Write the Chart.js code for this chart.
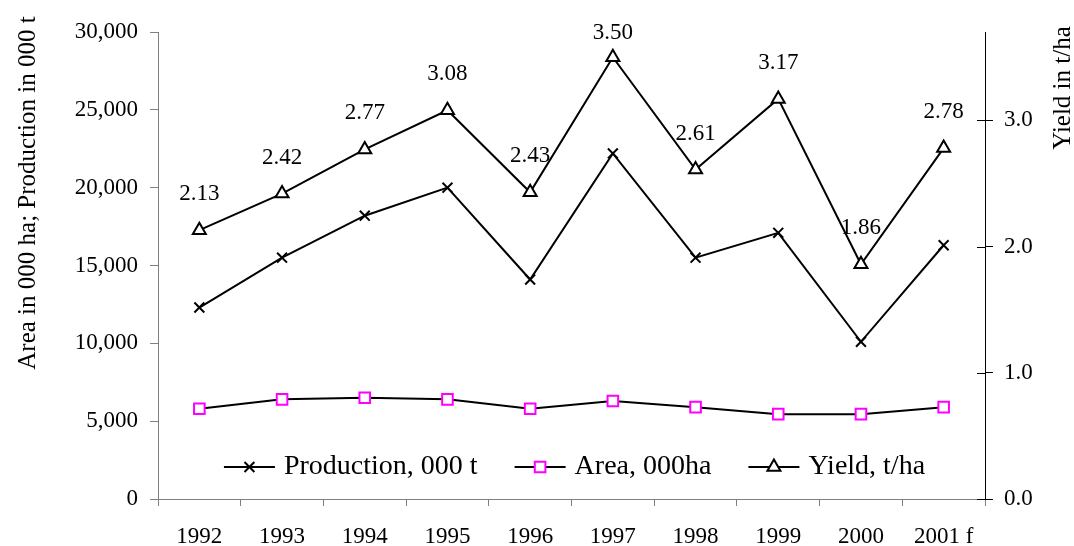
<!DOCTYPE html>
<html>
<head>
<meta charset="utf-8">
<script src="https://cdn.jsdelivr.net/npm/chart.js@4/dist/chart.umd.min.js"></script>
<style>
  html, body { margin: 0; padding: 0; background: #fff; }
  #wrap { width: 1074px; height: 546px; }
</style>
</head>
<body>
<div id="wrap"><canvas id="crop-chart" width="1074" height="546"></canvas></div>
<script>
// values
var years = ['1992', '1993', '1994', '1995', '1996', '1997', '1998', '1999', '2000', '2001 f'];
var production = [12300, 15500, 18200, 20000, 14100, 22200, 15500, 17100, 10100, 16300];
var area = [5800, 6400, 6500, 6400, 5800, 6300, 5900, 5450, 5450, 5900];
var yieldTha = [2.13, 2.42, 2.77, 3.08, 2.43, 3.50, 2.61, 3.17, 1.86, 2.78];
var leftTicks = [0, 5000, 10000, 15000, 20000, 25000, 30000];
var rightTicks = [0, 1, 2, 3];

var FONT = 'Liberation Serif, Times New Roman, serif';
var GREY = '#808080';

// yield values above the triangles
var valueLabels = {
    id: 'valueLabels',
    afterDatasetsDraw: function (chart) {
        var ctx = chart.ctx;
        var pts = chart.getDatasetMeta(2).data;
        ctx.save();
        ctx.font = '23px ' + FONT;
        ctx.fillStyle = '#000';
        ctx.textAlign = 'center';
        ctx.textBaseline = 'middle';
        pts.forEach(function (p, i) {
            var y = Math.max(p.y - 36, chart.chartArea.top + 1);
            ctx.fillText(yieldTha[i].toFixed(2), p.x, y);
        });
        ctx.restore();
    }
};

// legend drawn inside the plot, plus axis titles and inner ticks of the right axis
var extras = {
    id: 'extras',
    afterDraw: function (chart) {
        var ctx = chart.ctx;
        var a = chart.chartArea;
        ctx.save();

        // inner tick marks on the right axis
        var y1 = chart.scales.y1;
        ctx.strokeStyle = '#000';
        ctx.lineWidth = 1;
        rightTicks.forEach(function (v) {
            var y = Math.round(y1.getPixelForValue(v)) + 0.5;
            ctx.beginPath();
            ctx.moveTo(a.right - 8, y);
            ctx.lineTo(a.right, y);
            ctx.stroke();
        });

        // axis titles
        ctx.fillStyle = '#000';
        ctx.font = '25px ' + FONT;
        ctx.textAlign = 'center';
        ctx.textBaseline = 'middle';
        ctx.save();
        ctx.translate(28, 193);
        ctx.rotate(-Math.PI / 2);
        ctx.fillText('Area in 000 ha; Production in 000 t', 0, 0);
        ctx.restore();
        ctx.save();
        ctx.translate(1063, 88);
        ctx.rotate(-Math.PI / 2);
        ctx.fillText('Yield in t/ha', 0, 0);
        ctx.restore();

        // legend
        var items = chart.data.datasets;
        ctx.font = '28px ' + FONT;
        ctx.textAlign = 'left';
        var lineLen = 51, gapText = 9, gapItem = 37;
        var widths = items.map(function (d) {
            return lineLen + gapText + ctx.measureText(d.label).width;
        });
        var total = widths.reduce(function (s, w) { return s + w; }, 0) + gapItem * (items.length - 1);
        var x = (a.left + a.right) / 2 - total / 2 + 3;
        var ly = 467;
        items.forEach(function (d, i) {
            ctx.strokeStyle = '#000';
            ctx.lineWidth = 2;
            ctx.beginPath();
            ctx.moveTo(x, ly);
            ctx.lineTo(x + lineLen, ly);
            ctx.stroke();
            ctx.fillStyle = '#fff';
            ctx.strokeStyle = d.pointBorderColor;
            ctx.lineWidth = d.pointBorderWidth;
            Chart.helpers.drawPoint(ctx, {
                pointStyle: d.pointStyle,
                radius: d.pointRadius,
                rotation: 0,
                borderWidth: d.pointBorderWidth
            }, x + lineLen / 2, ly);
            ctx.fillStyle = '#000';
            ctx.fillText(d.label, x + lineLen + gapText, ly);
            x += widths[i] + gapItem;
        });
        ctx.restore();
    }
};

var ctx = document.getElementById('crop-chart').getContext('2d');

var cropChart = new Chart(ctx, {
    type: 'line',
    data: {
        labels: years,
        datasets: [{
            label: 'Production, 000 t',
            data: production,
            yAxisID: 'y',
            borderColor: '#000',
            borderWidth: 2,
            pointStyle: 'crossRot',
            pointRadius: 7,
            pointBorderColor: '#000',
            pointBorderWidth: 2,
            tension: 0
        }, {
            label: 'Area, 000ha',
            data: area,
            yAxisID: 'y',
            borderColor: '#000',
            borderWidth: 2,
            pointStyle: 'rect',
            pointRadius: 7.5,
            pointBackgroundColor: '#fff',
            pointBorderColor: '#ff00ff',
            pointBorderWidth: 2,
            tension: 0
        }, {
            label: 'Yield, t/ha',
            data: yieldTha,
            yAxisID: 'y1',
            borderColor: '#000',
            borderWidth: 2,
            pointStyle: 'triangle',
            pointRadius: 7.5,
            pointBackgroundColor: '#fff',
            pointBorderColor: '#000',
            pointBorderWidth: 2,
            tension: 0
        }]
    },
    options: {
        responsive: false,
        animation: false,
        layout: { padding: { top: 32, left: 0, right: 0, bottom: 0 } },
        plugins: {
            legend: { display: false },
            tooltip: { enabled: false }
        },
        scales: {
            x: {
                offset: true,
                grid: { offset: true, drawOnChartArea: false, tickLength: 7, color: GREY },
                border: { color: GREY, width: 1 },
                ticks: { color: '#000', padding: 17, maxRotation: 0, font: { family: FONT, size: 23 } },
                afterFit: function (s) { s.height = 47; }
            },
            y: {
                position: 'left',
                min: 0,
                max: 30000,
                grid: { drawOnChartArea: false, tickLength: 8, color: GREY },
                border: { color: GREY, width: 1 },
                afterBuildTicks: function (s) {
                    s.ticks = leftTicks.map(function (v) { return { value: v }; });
                },
                ticks: {
                    color: '#000',
                    padding: 12,
                    font: { family: FONT, size: 23 },
                    callback: function (v) { return v.toLocaleString('en-US'); }
                },
                afterFit: function (s) { s.width = 158; }
            },
            y1: {
                position: 'right',
                min: 0,
                max: 3.7,
                grid: { drawOnChartArea: false, tickLength: 8, color: '#000' },
                border: { color: '#000', width: 1 },
                afterBuildTicks: function (s) {
                    s.ticks = rightTicks.map(function (v) { return { value: v }; });
                },
                ticks: {
                    color: '#000',
                    padding: 11,
                    font: { family: FONT, size: 23 },
                    callback: function (v) { return Number(v).toFixed(1); }
                },
                afterFit: function (s) { s.width = 89; }
            }
        }
    },
    plugins: [valueLabels, extras]
});
</script>
</body>
</html>
